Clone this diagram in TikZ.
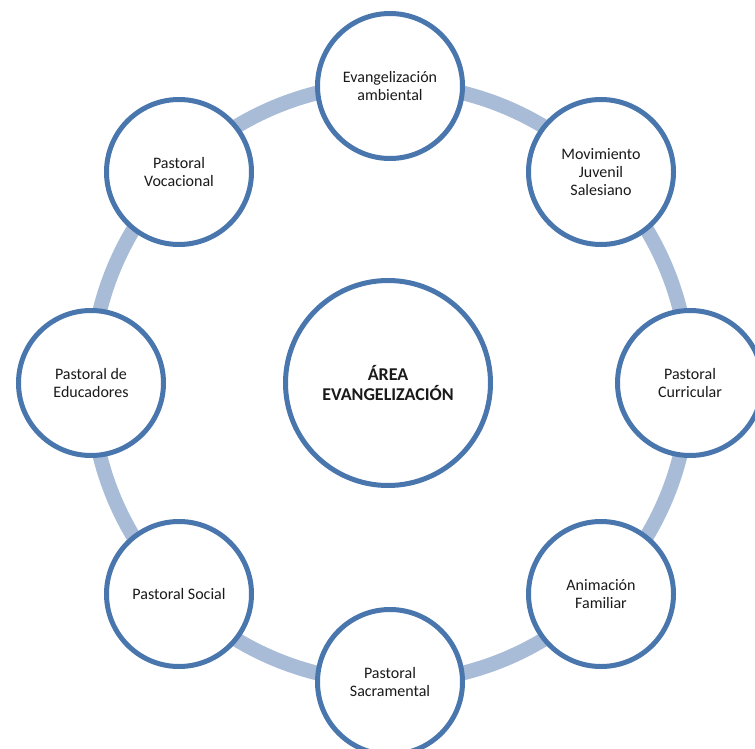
\documentclass[tikz,border=0pt]{standalone}
\usepackage{fontspec}
\setmainfont{Carlito}
\usetikzlibrary{shadows}
\definecolor{ringblue}{HTML}{A8BCD8}
\definecolor{edgeblue}{HTML}{4A76AE}
\definecolor{textgrey}{HTML}{1A1A1A}
\tikzstyle{area} = [circle, minimum size=153.75pt, inner sep=0pt, align=center, draw=edgeblue, line width=3.75pt, fill=white, text=textgrey, font=\fontsize{13.5}{15}\selectfont\bfseries, drop shadow={opacity=0.2, shadow xshift=0pt, shadow yshift=-1.5pt}]
\tikzstyle{branch} = [circle, minimum size=108.75pt, inner sep=0pt, align=center, draw=edgeblue, line width=3.75pt, fill=white, text=textgrey, font=\fontsize{12}{13.5}\selectfont, drop shadow={opacity=0.2, shadow xshift=0pt, shadow yshift=-1.5pt}]
\tikzstyle{ring} = [draw=ringblue, line width=11pt]

\begin{document}
\begin{tikzpicture}[x=0.75pt, y=-0.75pt]

\useasboundingbox (0,0) rectangle (755,748);

\node (0) [area] at (388,383) {ÁREA\\EVANGELIZACIÓN};
\draw [ring] (390,383) circle[radius=299];

\node (1) [branch] at (390,86) {Evangelización\\ambiental};
\node (2) [branch] at (601,172) {Movimiento\\Juvenil\\Salesiano};
\node (3) [branch] at (690,383) {Pastoral\\Curricular};
\node (4) [branch] at (601,594) {Animación\\Familiar};
\node (5) [branch] at (390,682) {Pastoral\\Sacramental};
\node (6) [branch] at (179,594) {Pastoral Social};
\node (7) [branch] at (91,383) {Pastoral de\\Educadores};
\node (8) [branch] at (179,172) {Pastoral\\Vocacional};

\end{tikzpicture}
\end{document}
